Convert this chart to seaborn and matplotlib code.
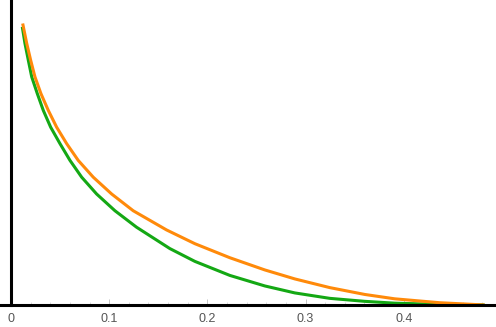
import numpy as np
import pandas as pd
import matplotlib
matplotlib.use("Agg")
import matplotlib.pyplot as plt
import seaborn as sns
from matplotlib.ticker import MultipleLocator

# values (y in axis-fraction units)
x_orange = [0.0119, 0.0160, 0.0200, 0.0244, 0.0305, 0.0380, 0.0465, 0.0567,
            0.0685, 0.0838, 0.1025, 0.1245, 0.1585, 0.1873, 0.2229, 0.2585,
            0.2891, 0.3247, 0.3603, 0.3908, 0.4366, 0.4824]
y_orange = [0.923, 0.858, 0.803, 0.748, 0.693, 0.638, 0.583, 0.529,
            0.474, 0.419, 0.364, 0.309, 0.246, 0.201, 0.155, 0.115,
            0.0855, 0.057, 0.0346, 0.0203, 0.0075, 0.0]
x_green = [0.0115, 0.0142, 0.0176, 0.0211, 0.0268, 0.0329, 0.0404, 0.0499,
           0.0601, 0.0720, 0.0872, 0.1059, 0.1279, 0.1618, 0.1873, 0.2229,
           0.2585, 0.2891, 0.3247, 0.3603, 0.3908, 0.4366, 0.4824]
y_green = [0.912, 0.858, 0.803, 0.748, 0.693, 0.638, 0.583, 0.529,
           0.474, 0.419, 0.364, 0.309, 0.255, 0.185, 0.143, 0.097,
           0.0625, 0.0396, 0.0218, 0.012, 0.006, 0.002, 0.0]
xticks = [0, 0.1, 0.2, 0.3, 0.4]
xtick_labels = ["0", "0.1", "0.2", "0.3", "0.4"]

df = pd.concat([
    pd.DataFrame({"x": x_green, "y": y_green, "s": "green"}),
    pd.DataFrame({"x": x_orange, "y": y_orange, "s": "orange"}),
])

sns.set_style("white")
plt.rcParams["font.family"] = ["Liberation Sans", "DejaVu Sans"]

fig = plt.figure(figsize=(4.96, 3.27), dpi=100)
ax = fig.add_axes([0, 22 / 327, 1, 305 / 327])

sns.lineplot(data=df, x="x", y="y", hue="s", sort=False, estimator=None,
             palette={"green": "#14a814", "orange": "#ff8a0a"},
             linewidth=2.2, legend=False, ax=ax)
for line in ax.lines:
    line.set_solid_joinstyle("round")
    line.set_solid_capstyle("butt")

ax.set_xlim(-0.0112, 0.494)
ax.set_ylim(0, 1)
ax.set_xlabel("")
ax.set_ylabel("")

for s in ["top", "right"]:
    ax.spines[s].set_visible(False)
ax.spines["left"].set_position(("data", 0))
ax.spines["left"].set_linewidth(2.2)
ax.spines["left"].set_color("black")
ax.spines["bottom"].set_linewidth(2.2)
ax.spines["bottom"].set_color("black")

ax.set_xticks(xticks)
ax.set_xticklabels(xtick_labels)
ax.xaxis.set_minor_locator(MultipleLocator(0.02))
ax.tick_params(axis="x", which="major", direction="in", length=4, width=0.6,
               color="#bbbbbb", labelsize=9, labelcolor="#555555", pad=6,
               bottom=True)
ax.tick_params(axis="x", which="minor", direction="in", length=2.5, width=0.5,
               color="#cccccc", bottom=True)
ax.set_yticks([])

fig.savefig("out.png", dpi=100)
